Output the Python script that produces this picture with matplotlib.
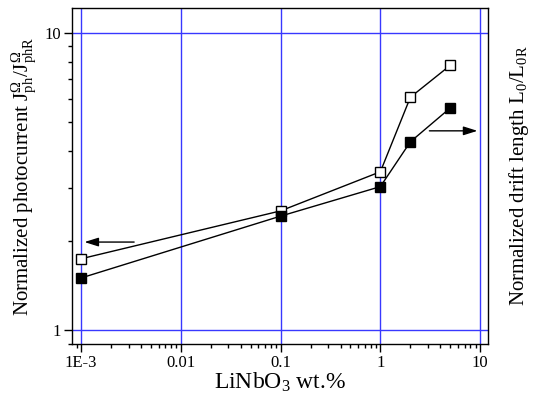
import matplotlib
matplotlib.use("Agg")
import matplotlib.pyplot as plt
from matplotlib.ticker import FixedLocator, LogLocator, NullFormatter, FixedFormatter

plt.rcParams['font.family'] = ['Liberation Serif', 'DejaVu Serif']
plt.rcParams['mathtext.fontset'] = 'custom'
plt.rcParams['mathtext.rm'] = 'Liberation Serif'
plt.rcParams['mathtext.it'] = 'Liberation Serif'

conc = [0.001, 0.1, 1, 2, 5]
photocurrent = [1.74, 2.52, 3.41, 6.07, 7.76]
drift_length = [1.50, 2.42, 3.04, 4.30, 5.58]
xtick_vals = [0.001, 0.01, 0.1, 1, 10]
xtick_labels = ['1E-3', '0.01', '0.1', '1', '10']
ytick_vals = [1, 10]
ytick_labels = ['1', '10']

fig = plt.figure(figsize=(5.34, 3.95), dpi=100)
ax = fig.add_axes([0.1348, 0.1291, 0.9139 - 0.1348, 0.9797 - 0.1291])
ax.set_xscale('log')
ax.set_yscale('log')
ax.set_xlim(8.1e-4, 12)
ax.set_ylim(0.9, 12.1)

for v in xtick_vals:
    ax.axvline(v, color='#3838ff', lw=1.0, zorder=1)
for v in ytick_vals:
    ax.axhline(v, color='#3838ff', lw=1.0, zorder=1)

ax.plot(conc, photocurrent, color='black', lw=1.0, marker='s', ms=7,
        mfc='white', mec='black', mew=1.0, zorder=3)
ax.plot(conc, drift_length, color='black', lw=1.0, marker='s', ms=7,
        mfc='black', mec='black', mew=1.0, zorder=3)

astyle = '-|>,head_length=0.7,head_width=0.22'
ax.annotate('', xy=(0.00108, 1.98), xytext=(0.0034, 1.98),
            arrowprops=dict(arrowstyle=astyle, color='black', lw=1.0,
                            mutation_scale=12, shrinkA=0, shrinkB=0))
ax.annotate('', xy=(9.4, 4.68), xytext=(3.1, 4.68),
            arrowprops=dict(arrowstyle=astyle, color='black', lw=1.0,
                            mutation_scale=12, shrinkA=0, shrinkB=0))

ax.xaxis.set_major_locator(FixedLocator(xtick_vals))
ax.xaxis.set_major_formatter(FixedFormatter(xtick_labels))
ax.xaxis.set_minor_locator(LogLocator(base=10, subs=range(2, 10), numticks=20))
ax.xaxis.set_minor_formatter(NullFormatter())
ax.yaxis.set_major_locator(FixedLocator(ytick_vals))
ax.yaxis.set_major_formatter(FixedFormatter(ytick_labels))
ax.yaxis.set_minor_locator(LogLocator(base=10, subs=range(2, 10), numticks=20))
ax.yaxis.set_minor_formatter(NullFormatter())
ax.tick_params(which='major', direction='out', length=6, width=1, labelsize=12, pad=2)
ax.tick_params(which='minor', direction='out', length=3, width=1)
for s in ax.spines.values():
    s.set_linewidth(1.0)

ax.set_xlabel('LiNbO$_3$ wt.%', fontsize=17, labelpad=0)
ax.set_ylabel(r'Normalized photocurrent J$^{\Omega}_{ph}$/J$^{\Omega}_{phR}$', fontsize=15, labelpad=4)
fig.text(0.972, 0.555, 'Normalized drift length L$_0$/L$_{0R}$', rotation=90,
         fontsize=15, ha='center', va='center')

fig.savefig('out.png', dpi=100)
